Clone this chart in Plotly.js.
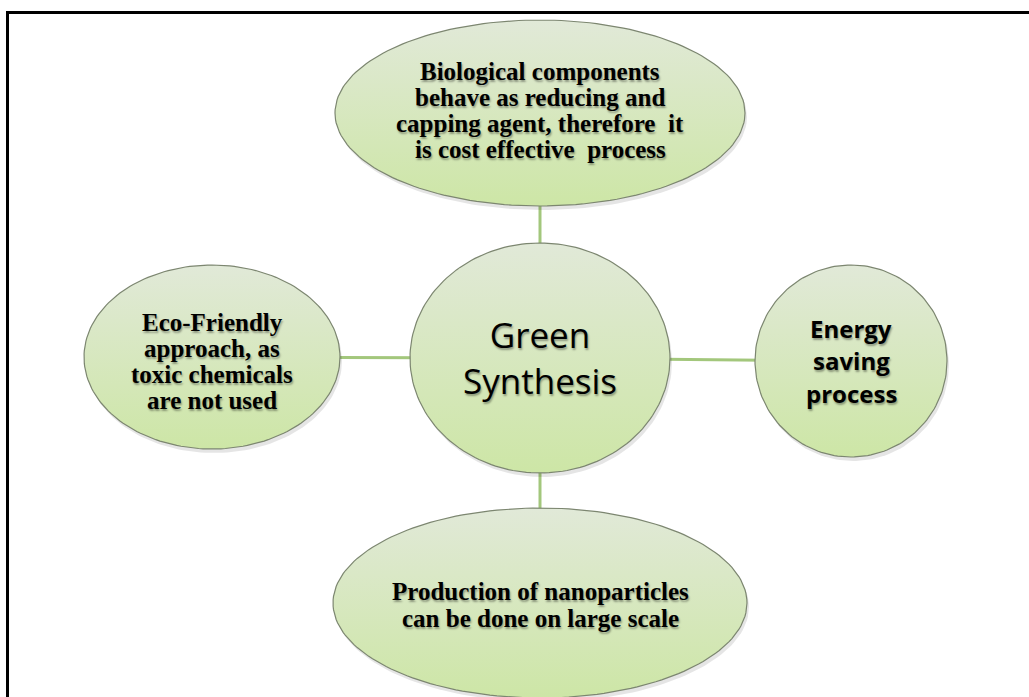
<!DOCTYPE html>
<html>
<head>
<meta charset="utf-8">
<script src="https://cdn.plot.ly/plotly-3.0.1.min.js"></script>
<style>html,body{margin:0;padding:0;background:#fff;}#chart{width:1029px;height:697px;}</style>
</head>
<body>
<div id="chart"></div>
<script>
// ---- content ----
const nodeNames = ["Green Synthesis", "Cost effective", "Eco-Friendly", "Energy saving", "Large scale"];
const centerLines = ["Green", "Synthesis"];
const topLines = ["Biological components", "behave as reducing and", "capping agent, therefore  it", "is cost effective  process"];
const leftLines = ["Eco-Friendly", "approach, as", "toxic chemicals", "are not used"];
const rightLines = ["Energy", "saving", "process"];
const bottomLines = ["Production of nanoparticles", "can be done on large scale"];

// ---- layout geometry (pixels) ----
const geom = {
  center: {cx: 540, cy: 358, rx: 130, ry: 115, lines: centerLines, font: "Open Sans, sans-serif", size: 35, bold: false, joined: true, mid: 357},
  top:    {cx: 540, cy: 113, rx: 205, ry: 93,  lines: topLines, font: "Liberation Serif, serif", size: 25, bold: true, step: 26, base: 80},
  left:   {cx: 212, cy: 357, rx: 128, ry: 92,  lines: leftLines, font: "Liberation Serif, serif", size: 25, bold: true, step: 26, base: 331},
  right:  {cx: 851, cy: 361, rx: 96,  ry: 96,  lines: rightLines, font: "Open Sans, sans-serif", size: 24, bold: true, step: 32.5, base: 336},
  bottom: {cx: 540, cy: 603, rx: 207, ry: 95,  lines: bottomLines, font: "Liberation Serif, serif", size: 25, bold: true, step: 27, base: 600}
};
const order = ["center", "top", "left", "right", "bottom"];

function ellipsePts(n, dx, dy) {
  const xs = [], ys = [];
  for (let i = 0; i <= 180; i++) {
    const t = 2 * Math.PI * i / 180;
    xs.push(n.cx + dx + n.rx * Math.cos(t));
    ys.push(n.cy + dy + n.ry * Math.sin(t));
  }
  return {xs, ys};
}

const traces = [];
order.forEach((k) => {
  const n = geom[k];
  const sh = ellipsePts(n, 2, 4);
  traces.push({type: 'scatter', mode: 'lines', x: sh.xs, y: sh.ys, fill: 'toself',
    fillcolor: 'rgba(0,0,0,0.10)', line: {width: 0, color: 'rgba(0,0,0,0)'}, hoverinfo: 'skip'});
  const p = ellipsePts(n, 0, 0);
  traces.push({type: 'scatter', mode: 'lines', x: p.xs, y: p.ys, fill: 'toself',
    fillgradient: {type: 'vertical', colorscale: [[0, '#cde6a6'], [1, '#e1e9d8']]},
    line: {width: 1.2, color: '#7c8670'}, hoverinfo: 'skip', name: k});
});

const shapes = [];
['top', 'left', 'right', 'bottom'].forEach((k) => {
  shapes.push({type: 'line', layer: 'below', xref: 'x', yref: 'y',
    x0: geom.center.cx, y0: geom.center.cy, x1: geom[k].cx, y1: geom[k].cy,
    line: {color: '#a3c77c', width: 3}});
});
shapes.push({type: 'rect', layer: 'above', xref: 'x', yref: 'y', x0: 7.5, y0: 12.5, x1: 1060, y1: 720,
  line: {color: '#000', width: 3}, fillcolor: 'rgba(0,0,0,0)'});

const annotations = [];
order.forEach((k) => {
  const n = geom[k];
  const font = {family: n.font, size: n.size, color: '#000', shadow: '1px 2px 2px rgba(0,0,0,0.35)'};
  if (n.joined) {
    annotations.push({xref: 'x', yref: 'y', x: n.cx, y: n.mid, text: n.lines.join('<br>'),
      showarrow: false, xanchor: 'center', yanchor: 'middle', align: 'center', font: font});
    return;
  }
  n.lines.forEach((ln, i) => {
    annotations.push({
      xref: 'x', yref: 'y', x: n.cx, y: n.base + i * n.step - n.size * 0.33,
      text: n.bold ? '<b>' + ln + '</b>' : ln, showarrow: false,
      xanchor: 'center', yanchor: 'middle', font: font
    });
  });
});

const layout = {
  width: 1029, height: 697,
  margin: {l: 0, r: 0, t: 0, b: 0, pad: 0},
  paper_bgcolor: '#ffffff', plot_bgcolor: '#ffffff',
  showlegend: false,
  xaxis: {range: [0, 1029], visible: false, fixedrange: true},
  yaxis: {range: [697, 0], visible: false, fixedrange: true},
  shapes: shapes,
  annotations: annotations
};

Plotly.newPlot('chart', traces, layout, {displayModeBar: false, staticPlot: true});
</script>
</body>
</html>
